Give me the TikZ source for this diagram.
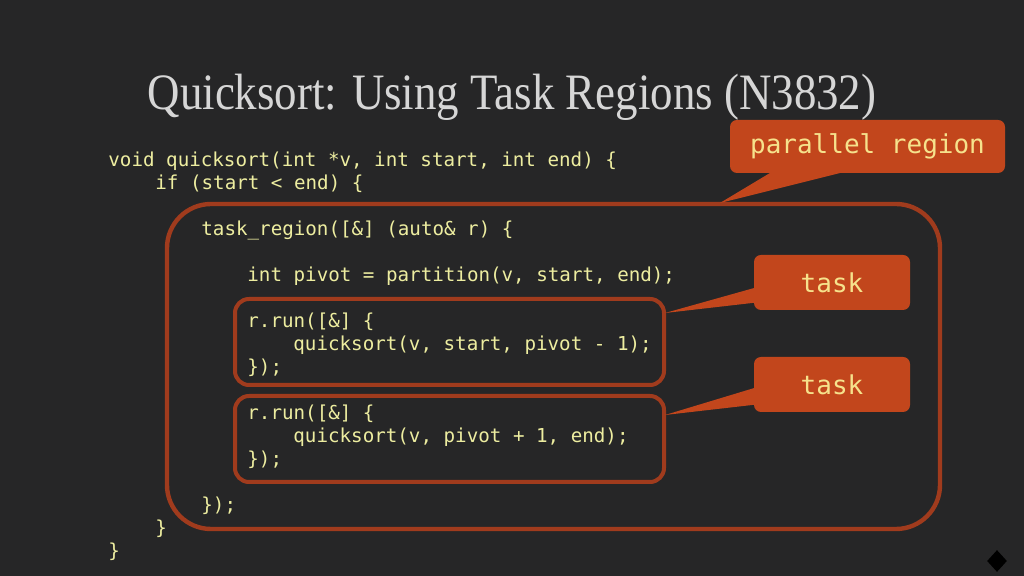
\documentclass[tikz,border=0pt]{standalone}
\usepackage{fontspec}
\setmainfont{Liberation Serif}
\setmonofont{DejaVu Sans Mono}
\usetikzlibrary{positioning,shapes.geometric,fit}
\definecolor{slidebg}{HTML}{262627}
\definecolor{codefg}{HTML}{EDEDA0}
\definecolor{titlefg}{HTML}{D6D6D6}
\definecolor{boxline}{HTML}{A03B1D}
\definecolor{calloutbg}{HTML}{C2461C}
\definecolor{callouttext}{HTML}{F6E28C}

\begin{document}
\begin{tikzpicture}[%
    x=0.5pt,y=-0.5pt,
    code/.style={%
      anchor=mid west,inner sep=0pt,yshift=-1.2pt,text=codefg,font=\ttfamily\fontsize{9.6}{11}\selectfont},
    regionbox/.style={draw=boxline,line width=2.2pt,rounded corners=22pt,inner sep=0pt},
    taskbox/.style={draw=boxline,line width=2pt,rounded corners=7pt,inner sep=0pt},
    callout/.style={%
      fill=calloutbg,rounded corners=3.5pt,inner sep=0pt,text=callouttext,
      font=\ttfamily\fontsize{13}{15}\selectfont}
  ]
    % slide background
    \fill[slidebg] (0,0) rectangle (1024,576);

    \node[text=titlefg,font=\fontsize{25.5}{30}\selectfont,xscale=0.88,anchor=base] (title) at (512,110) {Quicksort: Using Task Regions (N3832)};

    % boxes round the regions
    \node[regionbox,fit={(167,204) (940,529)}] (region) {};
    \node[taskbox,fit={(235,299) (664,385)}] (taska) {};
    \node[taskbox,fit={(235,396) (664,482)}] (taskb) {};

    % callouts
    \node[callout,minimum width=137.5pt,minimum height=26.5pt] (par) at (867.5,146.5) {parallel region};
    \node[callout,minimum width=78pt,minimum height=27.5pt] (lbla) at (832,282.5) {task};
    \node[callout,minimum width=78pt,minimum height=27.5pt] (lblb) at (832,384.5) {task};

    \coordinate (partip) at (720,203);
    \coordinate (tipa) at (665,313);
    \coordinate (tipb) at (665,415);
    \fill[calloutbg] ([shift={(43,-2)}]par.south west) -- (partip) -- ([shift={(117,-2)}]par.south west) -- cycle;
    \fill[calloutbg] ([shift={(2,33)}]lbla.north west) -- (tipa) -- ([shift={(2,48)}]lbla.north west) -- cycle;
    \fill[calloutbg] ([shift={(2,31)}]lblb.north west) -- (tipb) -- ([shift={(2,48)}]lblb.north west) -- cycle;

    % code
    \node[code] (sig)   at (108,160) {void quicksort(int *v, int start, int end) \{};
    \node[code] (cond)  at (155,183) {if (start < end) \{};
    \node[code] (tr)    at (201,229) {task\_region([\&] (auto\& r) \{};
    \node[code] (piv)   at (247,275) {int pivot = partition(v, start, end);};
    \node[code] (runa)  at (247,321) {r.run([\&] \{};
    \node[code] (calla) at (293,344) {quicksort(v, start, pivot - 1);};
    \node[code] (enda)  at (247,367) {\});};
    \node[code] (runb)  at (247,413) {r.run([\&] \{};
    \node[code] (callb) at (293,436) {quicksort(v, pivot + 1, end);};
    \node[code] (endb)  at (247,459) {\});};
    \node[code] (endtr) at (201,505) {\});};
    \node[code] (endif) at (155,528) {\}};
    \node[code] (endfn) at (108,551) {\}};

    \node[diamond,fill=black,minimum width=10pt,minimum height=11pt,inner sep=0pt] (corner) at (997,561) {};
\end{tikzpicture}
\end{document}
